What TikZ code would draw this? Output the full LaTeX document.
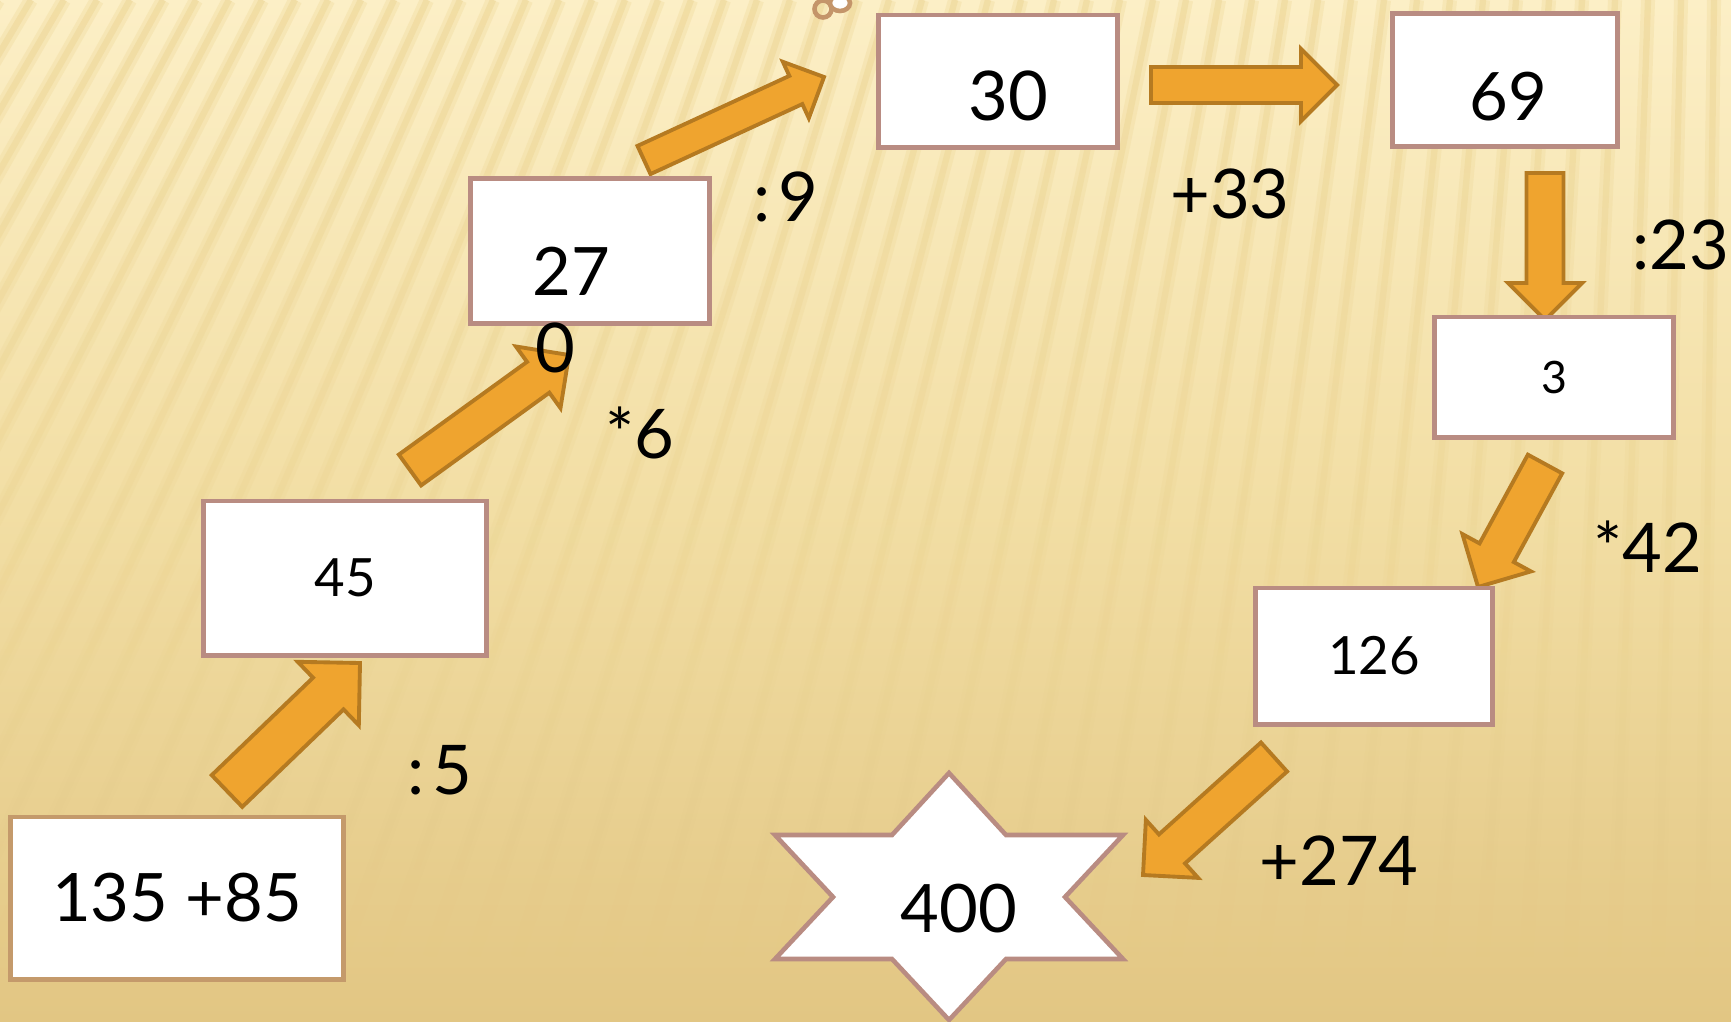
\documentclass[tikz,border=0pt]{standalone}
\usepackage{fontspec}
\setmainfont{Lato}
\usetikzlibrary{calc, fadings}

\definecolor{bgtop}{HTML}{FCEFC6}
\definecolor{bgmid}{HTML}{F2DEA4}
\definecolor{bgbot}{HTML}{E2C683}
\definecolor{stripe}{HTML}{E6CA7E}
\definecolor{arrowfill}{HTML}{EFA42F}
\definecolor{arrowline}{HTML}{B57A21}
\definecolor{boxline}{HTML}{B98C82}
\definecolor{startline}{HTML}{C49A6B}
\definecolor{curl}{HTML}{C4956A}

\tikzset{
  numbox/.style={draw=boxline, fill=white, line width=1.4pt, inner sep=0pt},
  numtext/.style={inner sep=0pt, font=\fontsize{#1}{#1}\selectfont},
  numtext/.default=19pt,
  optext/.style={inner sep=0pt, font=\fontsize{19.5pt}{20pt}\selectfont},
  blockarrow/.style={draw=arrowline, fill=arrowfill, line width=1.1pt, line join=miter},
  starshape/.style={draw=boxline, fill=white, line width=1.3pt, line join=miter}}

% block arrow: #1 shaft width, #2 tail, #3 tip
\newcommand{\flowarrow}[3]{%
  \pgfmathsetlengthmacro{\arrsw}{#1/2}%
  \coordinate (hb) at ($(#3)!#1!(#2)$);
  \draw[blockarrow] ($(#2)!\arrsw!90:(#3)$) -- ($(hb)!\arrsw!90:(#3)$)
    -- ($(hb)!#1!90:(#3)$) -- (#3) -- ($(hb)!#1!-90:(#3)$)
    -- ($(hb)!\arrsw!-90:(#3)$) -- ($(#2)!\arrsw!-90:(#3)$) -- cycle;}

\begin{document}
\begin{tikzpicture}[x=0.01cm, y=-0.01cm]
\useasboundingbox (0,0) rectangle (1731,1021);

% background
\begin{scope}
  \clip (0,0) rectangle (1731,1021);
  \shade[top color=bgtop, bottom color=bgbot, middle color=bgmid] (0,0) rectangle (1731,1021);
  \coordinate (vp) at (1750,-2900);
  \foreach \x in {-200,-167,...,2000} {
    \draw[stripe, line width=4pt, opacity=0.22, path fading=south] (\x,0) -- ($(\x,0)!-0.33!(vp)$);
    \draw[stripe, line width=1.8pt, opacity=0.3, path fading=south] (\x,0) -- ($(\x,0)!-0.3!(vp)$);
  }
\end{scope}

% curl at the top
\draw[curl, line width=1.3pt] (823,9) circle (0.085cm);
\draw[curl, line width=1.3pt, fill=white] (840,3) ellipse (0.1cm and 0.08cm);

% arrows
\coordinate (s1) at (227,791);  \coordinate (e1) at (360,663);
\coordinate (s2) at (410,470);  \coordinate (e2) at (569,355);
\coordinate (s3) at (644,160);  \coordinate (e3) at (824,77);
\coordinate (s4) at (1151,85);  \coordinate (e4) at (1337,85);
\coordinate (s5) at (1545,173); \coordinate (e5) at (1545,320);
\coordinate (s6) at (1545,464); \coordinate (e6) at (1478,587);
\coordinate (s7) at (1274,757); \coordinate (e7) at (1143,875);
\flowarrow{0.44cm}{s1}{e1}
\flowarrow{0.38cm}{s2}{e2}
\flowarrow{0.31cm}{s3}{e3}
\flowarrow{0.36cm}{s4}{e4}
\flowarrow{0.37cm}{s5}{e5}
\flowarrow{0.39cm}{s6}{e6}
\flowarrow{0.39cm}{s7}{e7}

% boxes
\node[numbox, draw=startline, minimum width=3.33cm, minimum height=1.62cm, numtext] (n135) at (177,898) {135 +85};
\node[numbox, minimum width=2.83cm, minimum height=1.54cm, numtext=15pt] (n45) at (345,578) {45};
\node[numbox, minimum width=2.38cm, minimum height=1.45cm] (n27) at (590,251) {};
\node[numtext] (t27) at (571,271) {27};
\node[numbox, minimum width=2.38cm, minimum height=1.32cm] (n30) at (998,81) {};
\node[numtext=19.5pt] (t30) at (1008,96) {30};
\node[numbox, minimum width=2.25cm, minimum height=1.33cm] (n69) at (1505,80) {};
\node[numtext] (t69) at (1508,97) {69};
\node[numbox, minimum width=2.39cm, minimum height=1.20cm, numtext=12.7pt] (n3) at (1554,377) {3};
\node[numbox, minimum width=2.37cm, minimum height=1.36cm, numtext=15pt] (n126) at (1374,656) {126};

% star
\coordinate (sc) at (949,897);
\draw[starshape, shift={(sc)}] (0,-124) -- (57,-62) -- (174,-62) -- (116,0) -- (174,62)
  -- (57,62) -- (0,123) -- (-57,62) -- (-174,62) -- (-116,0) -- (-174,-62) -- (-57,-62) -- cycle;
\node[numtext] (n400) at (959,909) {400};

% operations
\node[optext] (o5) at (440,770) {:\hspace{0.12em}5};
\node[optext] (o6) at (640,433) {*6};
\node[optext] (oz) at (555,348) {0};
\node[optext] (o9) at (786,197) {:\hspace{0.12em}9};
\node[optext] (o33) at (1230,194) {+33};
\node[optext] (o23) at (1681,245) {:23};
\node[optext] (o42) at (1648,547) {*42};
\node[optext] (o274) at (1339,861) {+274};
\end{tikzpicture}
\end{document}
